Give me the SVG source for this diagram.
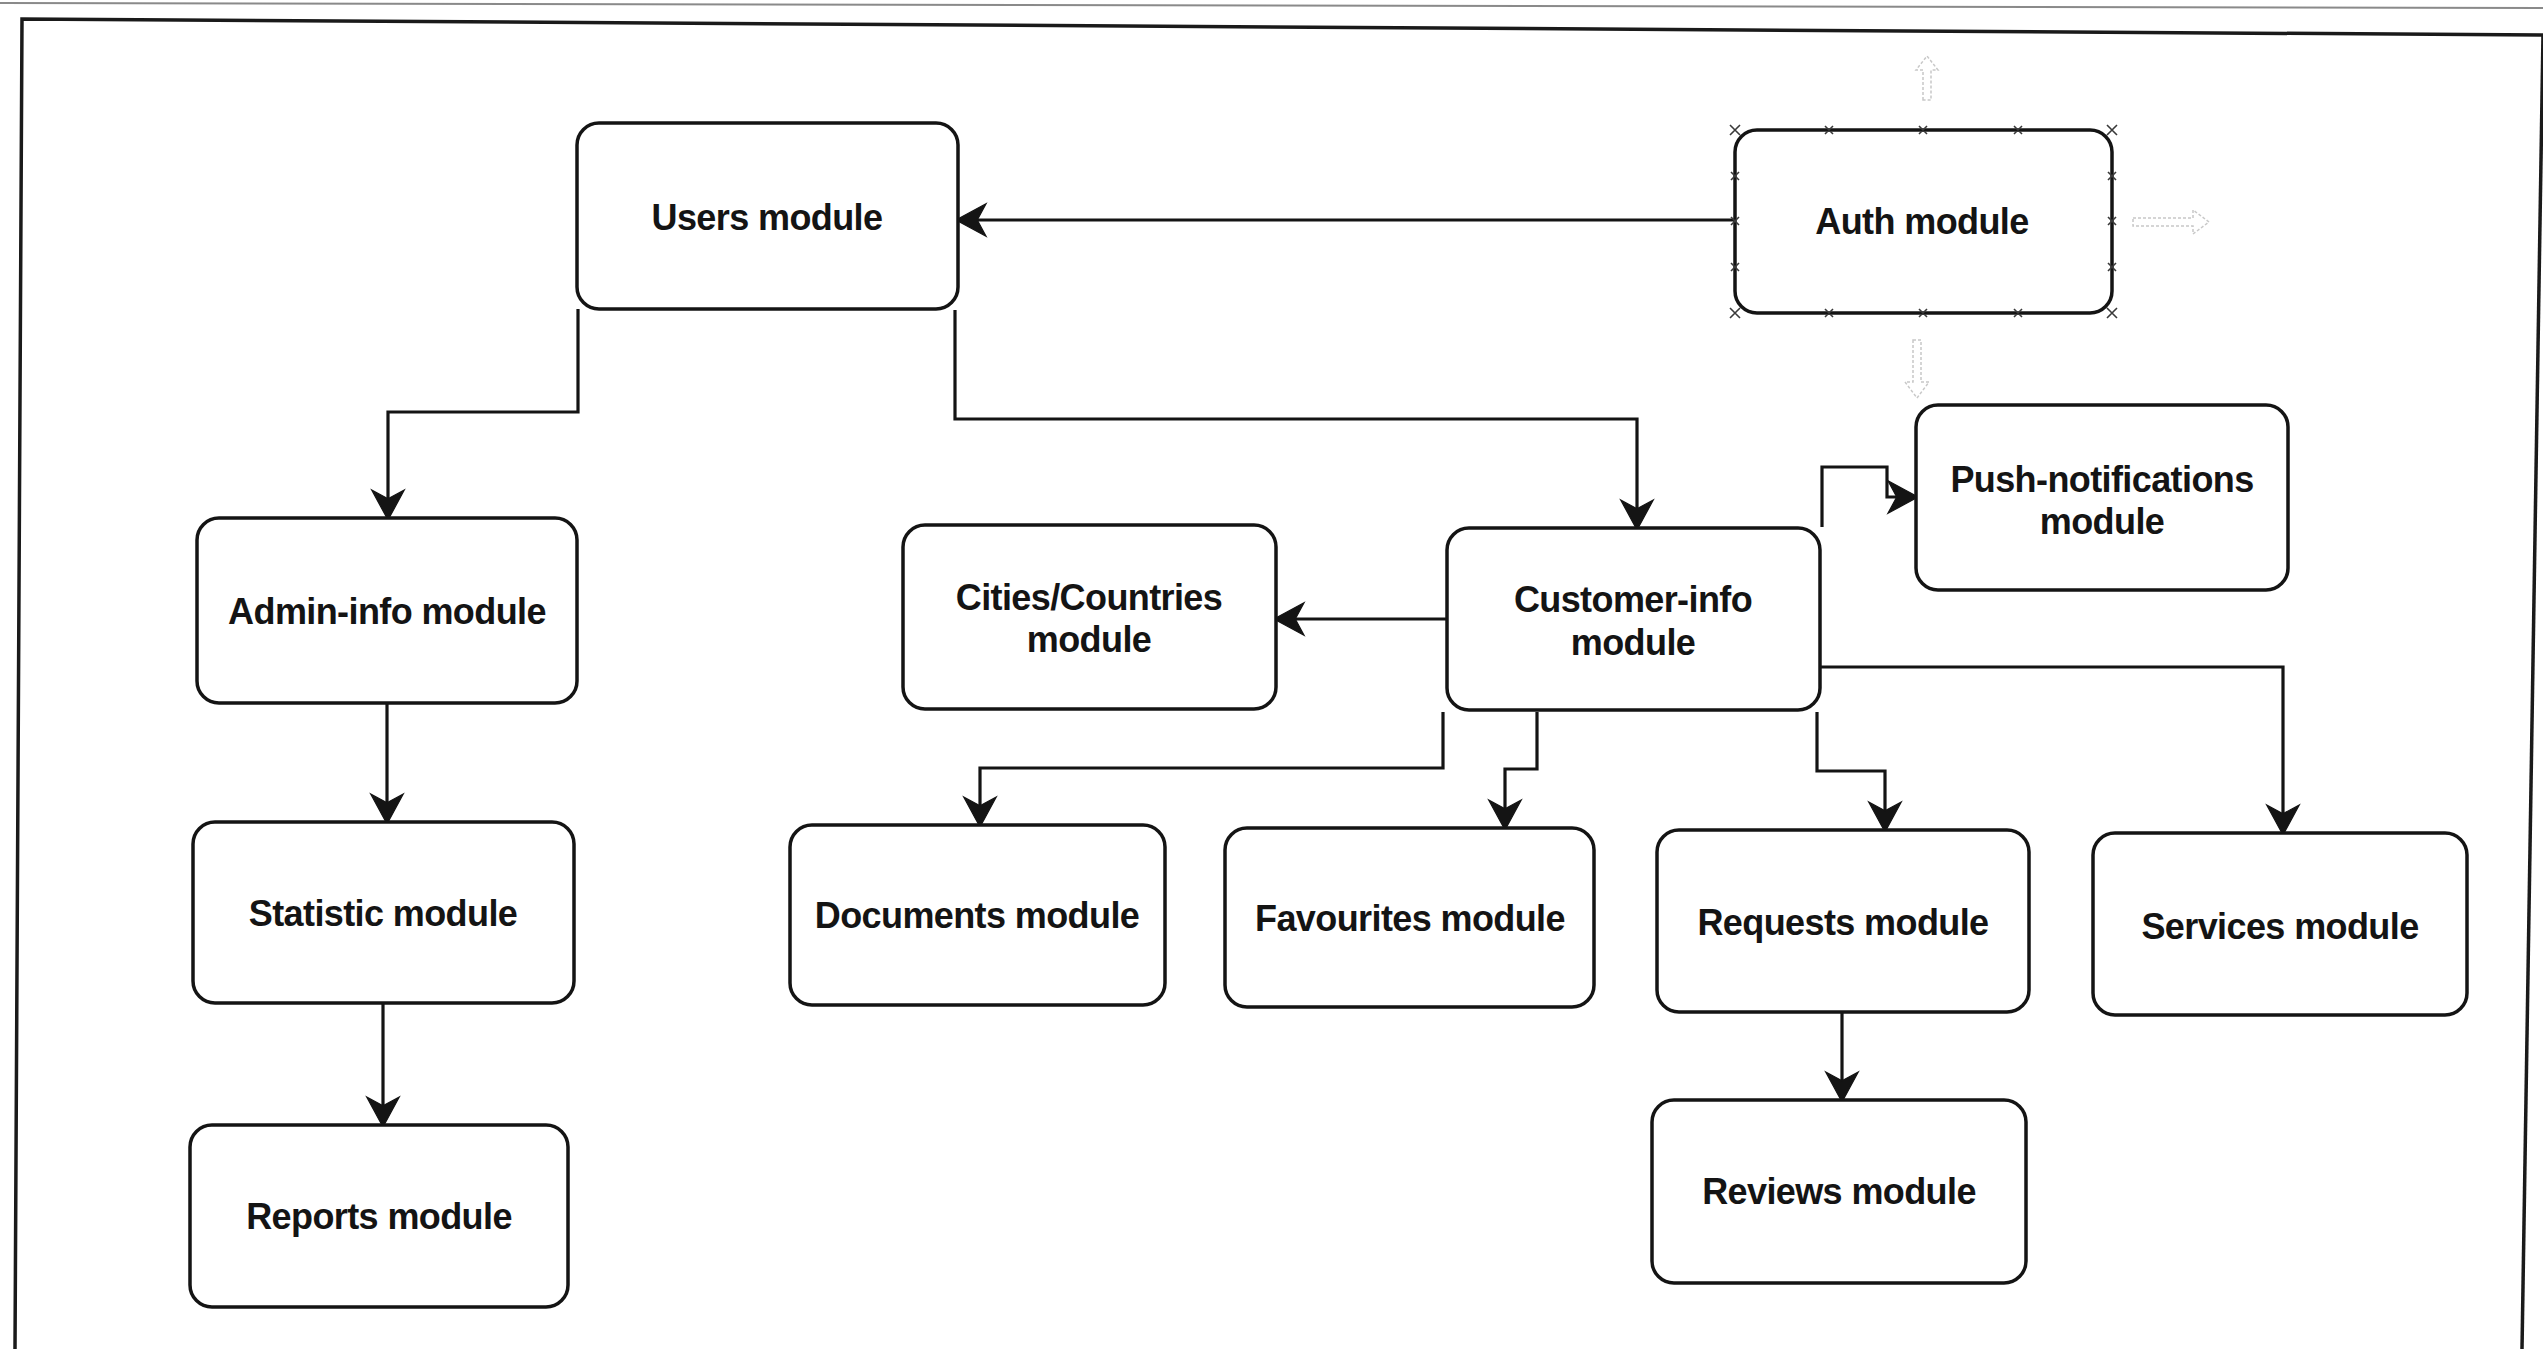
<svg xmlns="http://www.w3.org/2000/svg" width="2543" height="1349" viewBox="0 0 2543 1349">
  <style>
    .box { fill: #ffffff; stroke: #141414; stroke-width: 3.5; }
    .lbl { font-family: "Liberation Sans", Arial, sans-serif; font-weight: bold; font-size: 36px; letter-spacing: -0.6px; fill: #141414; text-anchor: middle; }
    .edge { fill: none; stroke: #141414; stroke-width: 3.2; stroke-linejoin: miter; }
    .frame { fill: none; stroke: #1a1a1a; stroke-width: 3.5; }
    .handle { fill: none; stroke: #3a3a3a; stroke-width: 1.6; }
    .hint { fill: none; stroke: #c8c8c8; stroke-width: 1.5; stroke-dasharray: 3 2; }
  </style>
  <defs>
    <marker id="arrow" markerUnits="userSpaceOnUse" markerWidth="40" markerHeight="40" viewBox="-4 -16 32 32" refX="16" refY="0" orient="auto" overflow="visible">
      <path d="M0,-13 L24,0 L0,13 L7,0 Z" fill="#141414" stroke="#141414" stroke-width="1" stroke-linejoin="miter"/>
    </marker>
  </defs>

  <rect width="2543" height="1349" fill="#ffffff"/>

  <!-- page frame -->
  <g id="frame">
    <path d="M0,3 L2543,8" fill="none" stroke="#8a8a8a" stroke-width="2"/>
    <path class="frame" d="M15,1349 L22,19 Q1270,24 2543,35"/>
    <path class="frame" d="M2543,35 L2522,1349"/>
  </g>

  <!-- connectors -->
  <g id="connectors">
    <path class="edge" d="M1735,220 L966,220" marker-end="url(#arrow)"/>
    <path class="edge" d="M578,309 L578,412 L388,412 L388,510" marker-end="url(#arrow)"/>
    <path class="edge" d="M955,310 L955,419 L1637,419 L1637,520" marker-end="url(#arrow)"/>
    <path class="edge" d="M387,703 L387,814" marker-end="url(#arrow)"/>
    <path class="edge" d="M383,1003 L383,1117" marker-end="url(#arrow)"/>
    <path class="edge" d="M1447,619 L1284,619" marker-end="url(#arrow)"/>
    <path class="edge" d="M1443,712 L1443,768 L980,768 L980,817" marker-end="url(#arrow)"/>
    <path class="edge" d="M1537,712 L1537,769 L1505,769 L1505,820" marker-end="url(#arrow)"/>
    <path class="edge" d="M1817,712 L1817,771 L1885,771 L1885,822" marker-end="url(#arrow)"/>
    <path class="edge" d="M1820,667 L2283,667 L2283,825" marker-end="url(#arrow)"/>
    <path class="edge" d="M1822,527 L1822,467 L1887,467 L1887,497 L1908,497" marker-end="url(#arrow)"/>
    <path class="edge" d="M1842,1010 L1842,1092" marker-end="url(#arrow)"/>
  </g>

  <!-- nodes -->
  <g id="users">
    <rect class="box" x="577" y="123" width="381" height="186" rx="22"/>
    <text class="lbl" x="767" y="230">Users module</text>
  </g>

  <g id="auth">
    <rect class="box" x="1735" y="130" width="377" height="183" rx="22"/>
    <text class="lbl" x="1922" y="234">Auth module</text>
    <!-- connection-point markers of the selected shape -->
    <g class="handle">
      <path d="M1730,125 l10,10 M1740,125 l-10,10"/>
      <path d="M2107,125 l10,10 M2117,125 l-10,10"/>
      <path d="M1730,308 l10,10 M1740,308 l-10,10"/>
      <path d="M2107,308 l10,10 M2117,308 l-10,10"/>
      <path d="M1825,126 l8,8 M1833,126 l-8,8 M1919,126 l8,8 M1927,126 l-8,8 M2014,126 l8,8 M2022,126 l-8,8"/>
      <path d="M1825,309 l8,8 M1833,309 l-8,8 M1919,309 l8,8 M1927,309 l-8,8 M2014,309 l8,8 M2022,309 l-8,8"/>
      <path d="M1731,172 l8,8 M1739,172 l-8,8 M1731,217 l8,8 M1739,217 l-8,8 M1731,263 l8,8 M1739,263 l-8,8"/>
      <path d="M2108,172 l8,8 M2116,172 l-8,8 M2108,217 l8,8 M2116,217 l-8,8 M2108,263 l8,8 M2116,263 l-8,8"/>
    </g>
    <!-- faint hover arrows -->
    <path class="hint" d="M1923,100 L1923,70 L1916,70 L1927,56 L1938,70 L1931,70 L1931,100 Z"/>
    <path class="hint" d="M2133,218 L2193,218 L2193,210 L2209,222 L2193,234 L2193,226 L2133,226 Z"/>
    <path class="hint" d="M1913,340 L1913,382 L1905,382 L1917,398 L1929,382 L1921,382 L1921,340 Z"/>
  </g>

  <g id="admin-info">
    <rect class="box" x="197" y="518" width="380" height="185" rx="22"/>
    <text class="lbl" x="387" y="624">Admin-info module</text>
  </g>

  <g id="statistic">
    <rect class="box" x="193" y="822" width="381" height="181" rx="22"/>
    <text class="lbl" x="383" y="926">Statistic module</text>
  </g>

  <g id="reports">
    <rect class="box" x="190" y="1125" width="378" height="182" rx="22"/>
    <text class="lbl" x="379" y="1229">Reports module</text>
  </g>

  <g id="cities-countries">
    <rect class="box" x="903" y="525" width="373" height="184" rx="22"/>
    <text class="lbl" x="1089" y="610">Cities/Countries</text>
    <text class="lbl" x="1089" y="652">module</text>
  </g>

  <g id="customer-info">
    <rect class="box" x="1447" y="528" width="373" height="182" rx="22"/>
    <text class="lbl" x="1633" y="612">Customer-info</text>
    <text class="lbl" x="1633" y="655">module</text>
  </g>

  <g id="push-notifications">
    <rect class="box" x="1916" y="405" width="372" height="185" rx="22"/>
    <text class="lbl" x="2102" y="492">Push-notifications</text>
    <text class="lbl" x="2102" y="534">module</text>
  </g>

  <g id="documents">
    <rect class="box" x="790" y="825" width="375" height="180" rx="22"/>
    <text class="lbl" x="977" y="928">Documents module</text>
  </g>

  <g id="favourites">
    <rect class="box" x="1225" y="828" width="369" height="179" rx="22"/>
    <text class="lbl" x="1410" y="931">Favourites module</text>
  </g>

  <g id="requests">
    <rect class="box" x="1657" y="830" width="372" height="182" rx="22"/>
    <text class="lbl" x="1843" y="935">Requests module</text>
  </g>

  <g id="services">
    <rect class="box" x="2093" y="833" width="374" height="182" rx="22"/>
    <text class="lbl" x="2280" y="939">Services module</text>
  </g>

  <g id="reviews">
    <rect class="box" x="1652" y="1100" width="374" height="183" rx="22"/>
    <text class="lbl" x="1839" y="1204">Reviews module</text>
  </g>
</svg>
